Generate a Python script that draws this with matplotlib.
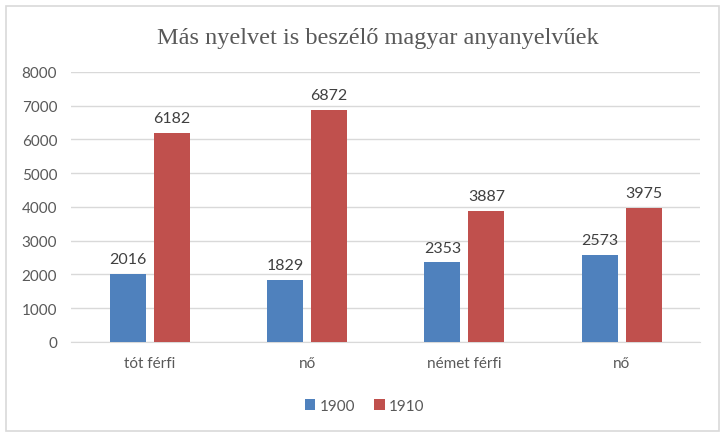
import numpy as np
import matplotlib.pyplot as plt
from matplotlib.patches import FancyBboxPatch

# data
categories = ["tót férfi", "nő", "német férfi", "nő"]
series_1900 = [2016, 1829, 2353, 2573]
series_1910 = [6182, 6872, 3887, 3975]

blue = "#4F81BD"
red = "#C0504D"
txt = "#595959"

fig = plt.figure(figsize=(7.25, 4.39), dpi=100)
ax = fig.add_axes([0.098, 0.219, 0.868, 0.615])

# light border round the whole chart
fig.patches.append(FancyBboxPatch((0.008, 0.016), 0.984, 0.968, boxstyle="square,pad=0",
                                  transform=fig.transFigure, fill=False,
                                  edgecolor="#D9D9D9", linewidth=1.2))

x = np.arange(len(categories))
w = 0.23
off = 0.14
b1 = ax.bar(x - off, series_1900, w, color=blue, label="1900", zorder=3)
b2 = ax.bar(x + off, series_1910, w, color=red, label="1910", zorder=3)

for bars in (b1, b2):
    for rect in bars:
        h = rect.get_height()
        ax.text(rect.get_x() + rect.get_width() / 2, h + 230, f"{int(h)}",
                ha="center", va="bottom", fontsize=11.5, color="#404040", family="Lato")

ax.set_xlim(-0.5, 3.5)
ax.set_ylim(0, 8000)
ax.set_yticks(range(0, 8001, 1000))
ax.set_xticks(x)
ax.set_xticklabels(categories)
ax.grid(axis="y", color="#D9D9D9", linewidth=1, zorder=0)
for s in ["top", "right", "left"]:
    ax.spines[s].set_visible(False)
ax.spines["bottom"].set_color("#D9D9D9")
ax.tick_params(length=0, labelsize=11, labelcolor=txt, pad=10)
for lab in ax.get_xticklabels() + ax.get_yticklabels():
    lab.set_family("Lato")

fig.text(0.521, 0.913, "Más nyelvet is beszélő magyar anyanyelvűek", ha="center", va="center",
         fontsize=17.5, color=txt, family="Liberation Serif")

fig.legend(handles=[b1, b2], loc="center", bbox_to_anchor=(0.503, 0.073), ncol=2, frameon=False,
           prop={"family": "Lato", "size": 11}, labelcolor=txt, handlelength=0.7, handleheight=0.7,
           handletextpad=0.3, columnspacing=1.2)

fig.savefig("out.png", dpi=100)
